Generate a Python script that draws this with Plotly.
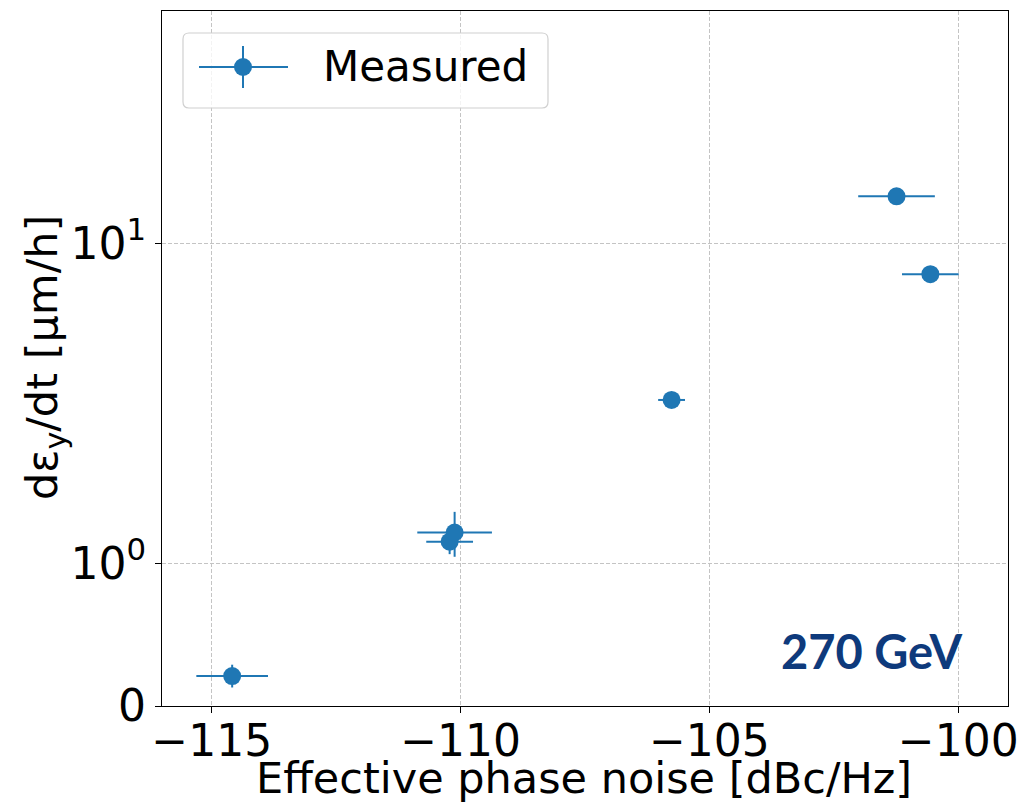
import numpy as np
import plotly.graph_objects as go

# ---------------- data ----------------
phase_noise = [-114.59, -110.22, -110.12, -105.76, -101.24, -100.56]   # dBc/Hz
phase_noise_err = [0.72, 0.47, 0.75, 0.27, 0.77, 0.57]
growth_rate = [0.21, 1.17, 1.25, 3.24, 14.0, 8.0]                       # um/h
growth_rate_err = [0.08, 0.10, 0.20, 0.15, 0.5, 0.3]

x_ticks = [-115, -110, -105, -100]
y_tick_values = [0, 1, 10]
y_tick_labels = ["0", "10<sup>0</sup>", "10<sup>1</sup>"]
x_range = [-116, -99]
y_range = [0, 53]

series_name = "Measured"
energy_label = "270 GeV"
x_title = "Effective phase noise [dBc/Hz]"
y_title = "dε<sub>y</sub>/dt [μm/h]"

# ---------------- symlog scale (linthresh=1, linscale=0.4) ----------------
LINTHRESH = 1.0
LINSCALE_ADJ = 0.4 / (1 - 1 / 10)


def symlog(v):
    v = np.asarray(v, dtype=float)
    a = np.abs(v)
    out = np.where(
        a <= LINTHRESH,
        v * LINSCALE_ADJ,
        np.sign(v) * LINTHRESH * (LINSCALE_ADJ + np.log10(np.maximum(a, 1e-12) / LINTHRESH)),
    )
    return out


y_arr = np.array(growth_rate)
e_arr = np.array(growth_rate_err)
y_t = symlog(y_arr)
err_plus = symlog(y_arr + e_arr) - y_t
err_minus = y_t - symlog(np.maximum(y_arr - e_arr, 0))

BLUE = "#1f77b4"
FONT = "DejaVu Sans"
FS = 42

fig = go.Figure()
fig.add_trace(
    go.Scatter(
        x=phase_noise,
        y=y_t,
        mode="markers",
        name=series_name,
        marker=dict(color=BLUE, size=18),
        error_x=dict(type="data", array=phase_noise_err, color=BLUE, thickness=2, width=0),
        error_y=dict(type="data", array=err_plus, arrayminus=err_minus, symmetric=False,
                     color=BLUE, thickness=2, width=0),
        showlegend=False,
    )
)

# ---------------- layout ----------------
L, R, T, B = 162, 12, 11, 97
W, H = 1020, 803
PW, PH = W - L - R, H - T - B


def px(p):
    return (p - L) / PW


def py(p):
    return (H - B - p) / PH


grid = dict(showgrid=True, gridcolor="#c4c4c4", gridwidth=1, griddash="4px,2px")
axis_common = dict(
    showline=True, linecolor="black", linewidth=1.3, mirror=True,
    ticks="outside", ticklen=6, tickwidth=1.3, tickcolor="black", automargin=False,
    tickfont=dict(family=FONT, size=44, color="black"), zeroline=False, **grid,
)

fig.update_layout(
    width=W, height=H,
    margin=dict(l=L, r=R, t=T, b=B),
    paper_bgcolor="white", plot_bgcolor="white",
    font=dict(family=FONT, size=FS, color="black"),
    xaxis=dict(range=x_range, tickvals=x_ticks, ticklabelstandoff=-10, **axis_common),
    yaxis=dict(
        range=list(symlog(y_range)), tickvals=list(symlog(y_tick_values)), ticktext=y_tick_labels,
        **axis_common,
    ),
)

# ---------------- axis titles ----------------
fig.add_annotation(
    xref="paper", yref="paper", x=px(584), y=py(778), xanchor="center", yanchor="middle",
    text=x_title, showarrow=False, font=dict(family=FONT, size=43, color="black"),
)
fig.add_annotation(
    xref="paper", yref="paper", x=px(45), y=py(358), xanchor="center", yanchor="middle",
    text=y_title, textangle=-90, showarrow=False, font=dict(family=FONT, size=43, color="black"),
)

# ---------------- legend drawn by hand (box with rounded corners + errorbar glyph) ----------------
x0, x1, y0, y1, r = 183, 548, 33, 108, 6
path = (
    f"M {px(x0 + r)} {py(y0)} L {px(x1 - r)} {py(y0)} Q {px(x1)} {py(y0)} {px(x1)} {py(y0 + r)} "
    f"L {px(x1)} {py(y1 - r)} Q {px(x1)} {py(y1)} {px(x1 - r)} {py(y1)} "
    f"L {px(x0 + r)} {py(y1)} Q {px(x0)} {py(y1)} {px(x0)} {py(y1 - r)} "
    f"L {px(x0)} {py(y0 + r)} Q {px(x0)} {py(y0)} {px(x0 + r)} {py(y0)} Z"
)
shapes = [
    dict(type="path", xref="paper", yref="paper", path=path,
         fillcolor="rgba(255,255,255,0.8)", line=dict(color="#d0d0d0", width=1.2), layer="above"),
    dict(type="line", xref="paper", yref="paper", x0=px(199), x1=px(288), y0=py(67), y1=py(67),
         line=dict(color=BLUE, width=2), layer="above"),
    dict(type="line", xref="paper", yref="paper", x0=px(243), x1=px(243), y0=py(46), y1=py(88),
         line=dict(color=BLUE, width=2), layer="above"),
    dict(type="circle", xref="paper", yref="paper", x0=px(234), x1=px(252), y0=py(58), y1=py(76),
         fillcolor=BLUE, line=dict(color=BLUE, width=0), layer="above"),
]
fig.update_layout(shapes=shapes)

fig.add_annotation(
    xref="paper", yref="paper", x=px(321), y=py(67), xanchor="left", yanchor="middle",
    text=series_name, showarrow=False, font=dict(family=FONT, size=FS, color="black"),
)
fig.add_annotation(
    xref="paper", yref="paper", x=px(964), y=py(651), xanchor="right", yanchor="middle",
    text=energy_label, showarrow=False,
    font=dict(family="Lato", size=47, color="#0e3a7c", weight="bold"),
)

fig.write_html("out.html")
